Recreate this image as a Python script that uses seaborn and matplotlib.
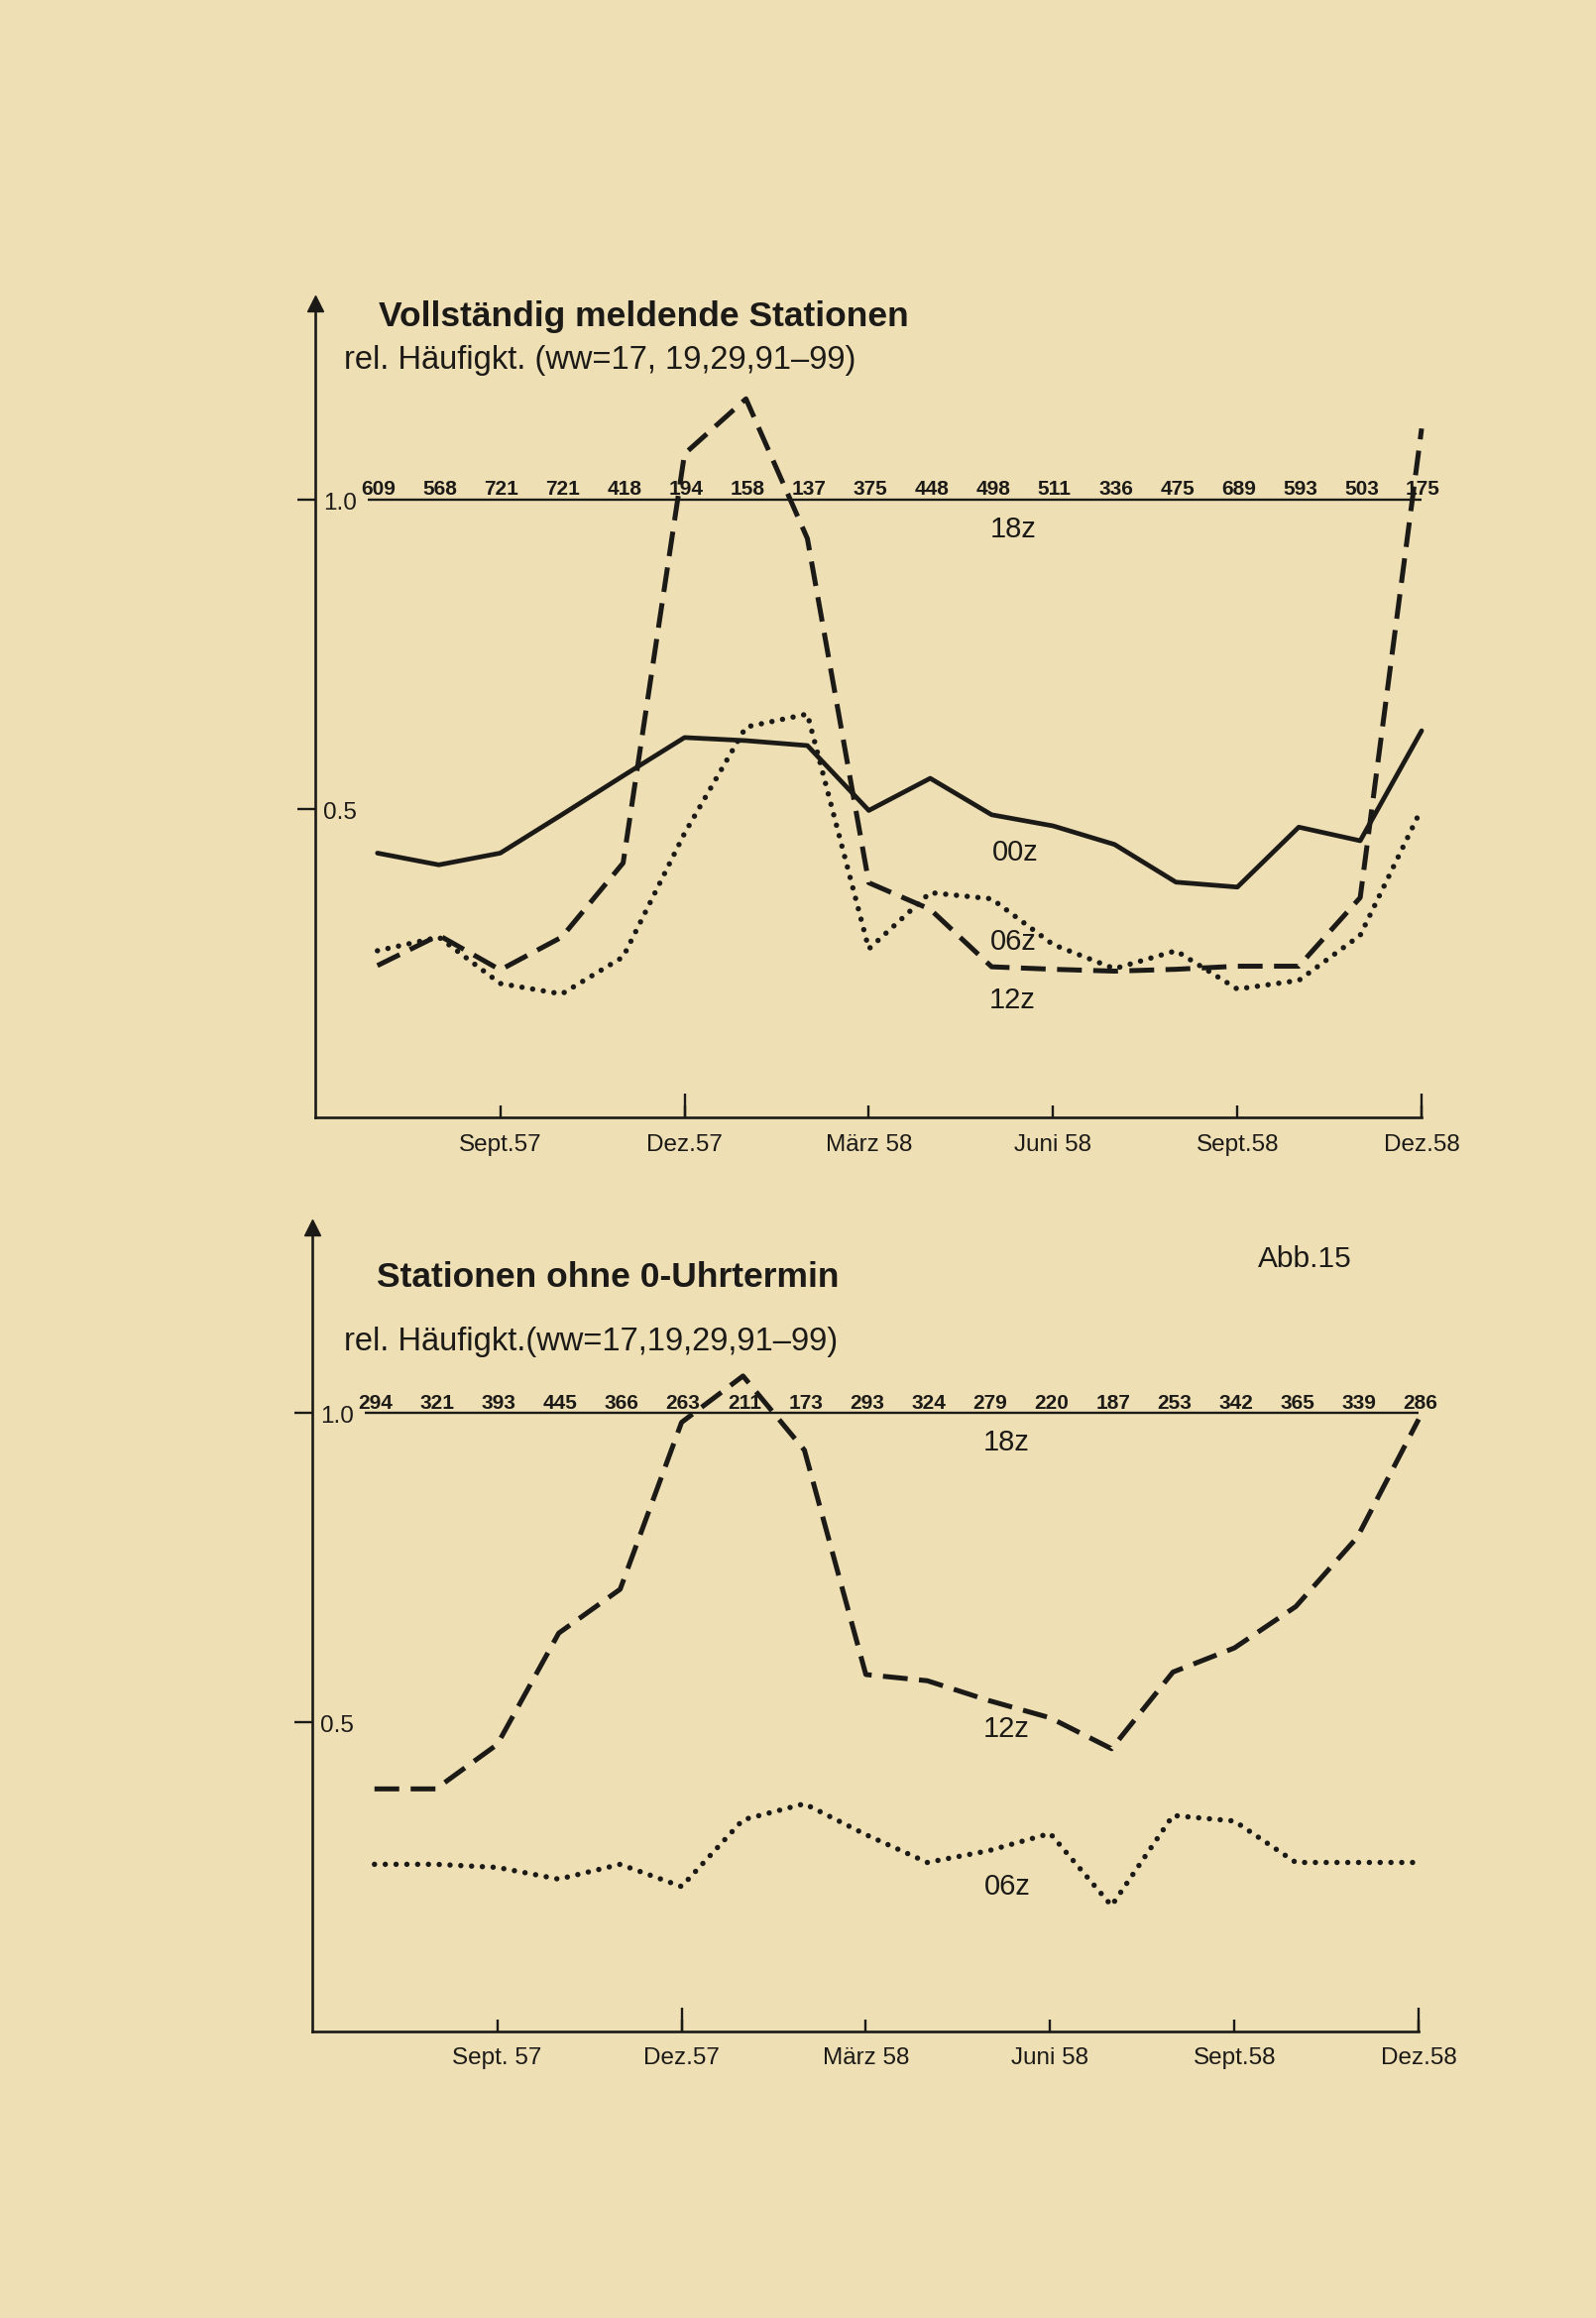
import matplotlib

matplotlib.use("Agg")
import matplotlib.pyplot as plt
import numpy as np
import pandas as pd
import seaborn as sns

# months Jul 57 .. Dez 58, one value per month
months = ["Jul 57", "Aug 57", "Sep 57", "Okt 57", "Nov 57", "Dez 57",
          "Jan 58", "Feb 58", "Mär 58", "Apr 58", "Mai 58", "Jun 58",
          "Jul 58", "Aug 58", "Sep 58", "Okt 58", "Nov 58", "Dez 58"]
tick_months = ["Sep 57", "Dez 57", "Mär 58", "Jun 58", "Sep 58", "Dez 58"]
top_tick_labels = ["Sept.57", "Dez.57", "März 58", "Juni 58", "Sept.58", "Dez.58"]
bottom_tick_labels = ["Sept. 57", "Dez.57", "März 58", "Juni 58", "Sept.58", "Dez.58"]

# Vollständig meldende Stationen
top_counts = [609, 568, 721, 721, 418, 194, 158, 137, 375, 448, 498, 511, 336, 475, 689, 593, 503, 175]
top_00z = [0.428, 0.409, 0.428, 0.49, 0.553, 0.615, 0.61, 0.602, 0.497, 0.549, 0.49, 0.472,
           0.442, 0.381, 0.373, 0.47, 0.448, 0.626]
top_06z = [0.27, 0.292, 0.217, 0.20, 0.26, 0.46, 0.632, 0.653, 0.273, 0.364, 0.354, 0.28,
           0.241, 0.27, 0.208, 0.222, 0.295, 0.50]
top_12z = [0.246, 0.295, 0.239, 0.292, 0.412, 1.074, 1.163, 0.937, 0.38, 0.337, 0.244, 0.24,
           0.237, 0.24, 0.245, 0.245, 0.356, 1.115]

# Stationen ohne 0-Uhrtermin
bottom_counts = [294, 321, 393, 445, 366, 263, 211, 173, 293, 324, 279, 220, 187, 253, 342, 365, 339, 286]
bottom_12z = [0.392, 0.392, 0.464, 0.644, 0.715, 0.985, 1.06, 0.94, 0.577, 0.567, 0.535, 0.507,
              0.457, 0.581, 0.62, 0.687, 0.799, 0.99]
bottom_06z = [0.27, 0.27, 0.265, 0.246, 0.27, 0.234, 0.342, 0.368, 0.318, 0.273, 0.292, 0.32,
              0.203, 0.349, 0.340, 0.273, 0.273, 0.273]

PAPER = "#eedfb4"
INK = "#1c1a17"

sns.set_theme(style="ticks")
plt.rcParams["font.family"] = ["Liberation Sans", "DejaVu Sans"]
plt.rcParams["text.color"] = INK

SOLID = dict(linestyle="-", lw=3.4, solid_capstyle="round")
DASHED = dict(linestyle=(0, (5.0, 2.3)), lw=3.6, dash_capstyle="butt")
DOTTED = dict(linestyle=(0, (0.01, 2.0)), lw=3.9, dash_capstyle="round")

month_index = {m: i for i, m in enumerate(months)}


def draw_panel(ax, counts, series, tick_labels, ytop, z_labels):
    ax.set_facecolor("none")
    x = np.arange(len(months))

    # 18z reference line with station counts
    ax.hlines(1.0, -0.15, x[-1], color=INK, lw=1.7)
    for i, n in enumerate(counts):
        ax.annotate(str(n), xy=(x[i], 1.0), xytext=(1, 0.5), textcoords="offset points",
                    ha="center", va="bottom", fontsize=15, fontweight="bold", color=INK)

    for values, style in series:
        frame = pd.DataFrame({"month": x, "value": values})
        sns.lineplot(data=frame, x="month", y="value", ax=ax, color=INK, errorbar=None,
                     clip_on=False, **style)

    for text, xp, yp in z_labels:
        ax.text(xp, yp, text, ha="center", va="center", fontsize=21, color=INK)

    ax.set_xlim(-1.02, x[-1])
    ax.set_ylim(0, ytop)
    sns.despine(ax=ax)
    for side in ("left", "bottom"):
        ax.spines[side].set_linewidth(1.9)
        ax.spines[side].set_color(INK)

    ax.set_xticks([month_index[m] for m in tick_months], tick_labels, fontsize=17.5)
    ax.set_xticks([month_index["Dez 57"], month_index["Dez 58"]], minor=True)
    ax.xaxis.remove_overlapping_locs = False
    ax.tick_params(axis="x", which="major", direction="in", length=9, width=1.7,
                   pad=12, colors=INK)
    ax.tick_params(axis="x", which="minor", direction="in", length=17, width=1.7, colors=INK)
    ax.set_yticks([0.5, 1.0], ["", ""])
    ax.tick_params(axis="y", direction="out", length=13, width=1.7, colors=INK)
    for yv, lab in [(0.5, "0.5"), (1.0, "1.0")]:
        ax.annotate(lab, xy=(0, yv), xycoords=("axes fraction", "data"), xytext=(6, -3),
                    textcoords="offset points", ha="left", va="center", fontsize=17.5, color=INK)
    ax.set_xlabel("")
    ax.set_ylabel("")
    # arrow head on the value axis
    ax.plot([0], [1], marker="^", ms=12, color=INK, transform=ax.transAxes, clip_on=False)


fig = plt.figure(figsize=(16.1, 23.38), dpi=100)
fig.patch.set_facecolor(PAPER)

ax_top = fig.add_axes([213 / 1080, 1 - 756 / 1568, (962 - 213) / 1080, (756 - 205) / 1568])
ax_bot = fig.add_axes([211 / 1080, 1 - 1374 / 1568, (960 - 211) / 1080, (1374 - 830) / 1568])

draw_panel(
    ax_top, top_counts,
    [(top_00z, SOLID), (top_06z, DOTTED), (top_12z, DASHED)],
    top_tick_labels, 1.318,
    [("18z", 10.36, 0.952), ("00z", 10.38, 0.428), ("06z", 10.36, 0.285), ("12z", 10.34, 0.19)],
)
draw_panel(
    ax_bot, bottom_counts,
    [(bottom_06z, DOTTED), (bottom_12z, DASHED)],
    bottom_tick_labels, 1.301,
    [("18z", 10.29, 0.952), ("12z", 10.29, 0.488), ("06z", 10.31, 0.234)],
)

fig.text(256 / 1080, 1 - 214 / 1568, "Vollständig meldende Stationen",
         fontweight="bold", fontsize=25.5, ha="left", va="center")
fig.text(233 / 1080, 1 - 244 / 1568, "rel. Häufigkt. (ww=17, 19,29,91–99)",
         fontsize=23.5, ha="left", va="center")
fig.text(255 / 1080, 1 - 864 / 1568, "Stationen ohne 0-Uhrtermin",
         fontweight="bold", fontsize=25.5, ha="left", va="center")
fig.text(233 / 1080, 1 - 908 / 1568, "rel. Häufigkt.(ww=17,19,29,91–99)",
         fontsize=23.5, ha="left", va="center")
fig.text(851 / 1080, 1 - 852 / 1568, "Abb.15", fontsize=21.5, ha="left", va="center")

fig.savefig("out.png", dpi=100, facecolor=PAPER)
plt.close(fig)
